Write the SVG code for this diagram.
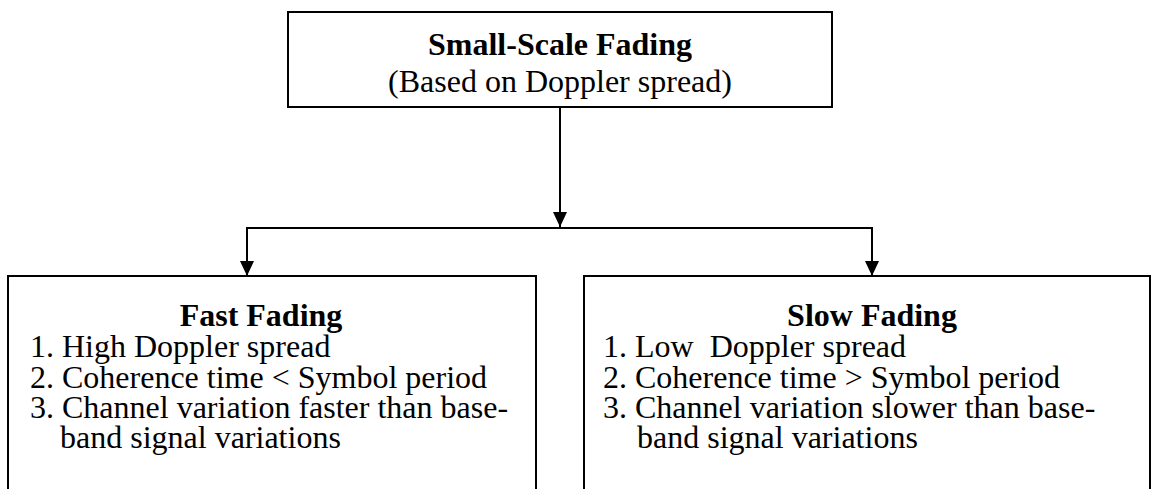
<svg xmlns="http://www.w3.org/2000/svg" width="1152" height="489" viewBox="0 0 1152 489">
<style>
.box{fill:#fff;stroke:#000;stroke-width:2}
.t{font-family:"Liberation Serif","Times New Roman",serif;font-size:32px;fill:#000}
.b{font-weight:bold}
.c{stroke:#000;stroke-width:2;fill:none}
</style>
<defs>
<marker id="ah" markerWidth="15" markerHeight="14" refX="15" refY="7" orient="auto" markerUnits="userSpaceOnUse" viewBox="0 0 15 14">
<path d="M0,0 L15,7 L0,14 Z" fill="#000"/>
</marker>
</defs>
<rect width="1152" height="489" fill="#fff"/>
<g id="top">
<rect class="box" x="288" y="12" width="544" height="95"/>
<text class="t b" x="560" y="55" text-anchor="middle">Small-Scale Fading</text>
<text class="t" x="560" y="92" text-anchor="middle">(Based on Doppler spread)</text>
</g>
<g id="fast">
<rect class="box" x="8" y="276" width="528" height="230"/>
<text class="t b" x="261" y="326" text-anchor="middle">Fast Fading</text>
<text class="t" x="30" y="357">1. High Doppler spread</text>
<text class="t" x="30" y="388">2. Coherence time &lt; Symbol period</text>
<text class="t" x="30" y="418">3. Channel variation faster than base-</text>
<text class="t" x="60" y="448">band signal variations</text>
</g>
<g id="slow">
<rect class="box" x="584" y="276" width="566" height="230"/>
<text class="t b" x="872" y="326" text-anchor="middle">Slow Fading</text>
<text class="t" x="603" y="357" xml:space="preserve">1. Low  Doppler spread</text>
<text class="t" x="603" y="388">2. Coherence time &gt; Symbol period</text>
<text class="t" x="603" y="418">3. Channel variation slower than base-</text>
<text class="t" x="637" y="448">band signal variations</text>
</g>
<g id="connectors">
<line class="c" x1="560" y1="107" x2="560" y2="227" marker-end="url(#ah)"/>
<polyline class="c" points="247,262 247,228 872,228 872,262"/>
<line class="c" x1="247" y1="240" x2="247" y2="276" marker-end="url(#ah)"/>
<line class="c" x1="872" y1="240" x2="872" y2="276" marker-end="url(#ah)"/>
</g>
</svg>
